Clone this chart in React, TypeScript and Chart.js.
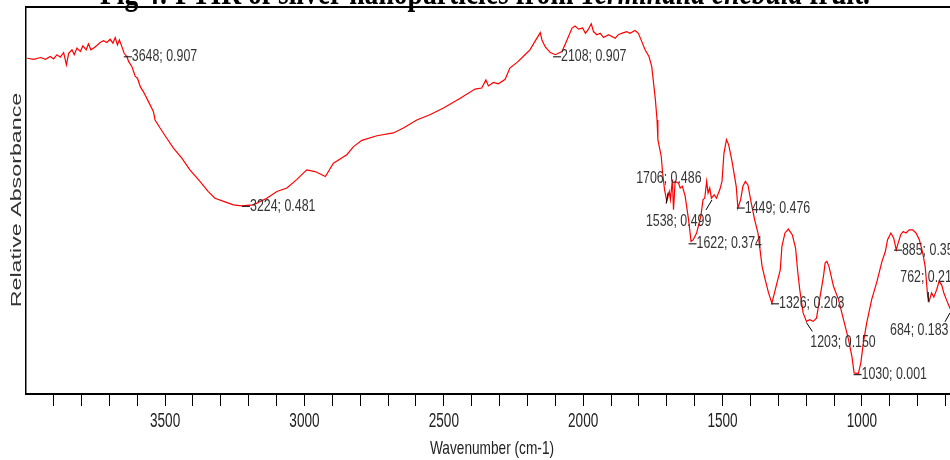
import React, { useEffect, useRef } from 'react';
import { Chart, registerables } from 'chart.js';

Chart.register(...registerables);

// ---- data ----
const wavenumbers = [
  3995, 3971, 3947, 3929, 3912, 3900, 3888, 3876, 3864, 3854, 3846, 3834, 3826, 3816, 3804, 3795, 3783, 3775, 3766, 3751,
  3733, 3721, 3709, 3697, 3687, 3679, 3671, 3664, 3655, 3647, 3637, 3631, 3619, 3613, 3607, 3599, 3589, 3578, 3560, 3542,
  3536, 3518, 3494, 3470, 3440, 3411, 3375, 3345, 3321, 3290, 3255, 3225, 3183, 3135, 3099, 3063, 3028, 2992, 2962, 2925,
  2896, 2848, 2824, 2794, 2740, 2681, 2645, 2597, 2550, 2501, 2441, 2388, 2364, 2349, 2340, 2322, 2304, 2280, 2263, 2233,
  2209, 2191, 2173, 2154, 2148, 2136, 2118, 2100, 2076, 2058, 2040, 2029, 2017, 2002, 1992, 1981, 1971, 1963, 1951, 1939,
  1927, 1909, 1885, 1874, 1862, 1844, 1832, 1814, 1802, 1790, 1778, 1764, 1754, 1741, 1735, 1732, 1727, 1720, 1715, 1708,
  1700, 1691, 1687, 1680, 1676, 1670, 1658, 1652, 1644, 1634, 1622, 1613, 1605, 1593, 1578, 1570, 1564, 1557, 1552, 1546,
  1540, 1530, 1522, 1510, 1502, 1495, 1486, 1478, 1466, 1451, 1445, 1435, 1427, 1418, 1409, 1397, 1385, 1373, 1358, 1347,
  1335, 1323, 1305, 1293, 1287, 1276, 1264, 1250, 1238, 1231, 1223, 1211, 1199, 1187, 1175, 1163, 1150, 1138, 1132, 1126,
  1118, 1102, 1084, 1066, 1048, 1036, 1028, 1013, 1004, 995, 983, 965, 946, 928, 916, 908, 896, 886, 877, 870,
  861, 852, 842, 830, 818, 806, 794, 782, 773, 764, 759, 750, 742, 732, 723, 714, 706, 697, 687, 680, 665,
];
const absorbance = [
  0.903, 0.900, 0.905, 0.900, 0.908, 0.901, 0.913, 0.906, 0.919, 0.884, 0.917, 0.927, 0.913, 0.932, 0.922, 0.938, 0.927, 0.944, 0.927, 0.935,
  0.948, 0.953, 0.948, 0.957, 0.946, 0.962, 0.941, 0.955, 0.936, 0.917, 0.908, 0.894, 0.879, 0.865, 0.851, 0.846, 0.822, 0.808, 0.780, 0.751,
  0.727, 0.704, 0.675, 0.647, 0.618, 0.585, 0.552, 0.523, 0.504, 0.495, 0.485, 0.482, 0.485, 0.504, 0.523, 0.533, 0.557, 0.585, 0.580, 0.566,
  0.604, 0.628, 0.651, 0.669, 0.682, 0.690, 0.704, 0.727, 0.742, 0.761, 0.789, 0.815, 0.818, 0.841, 0.824, 0.834, 0.830, 0.843, 0.875, 0.894,
  0.913, 0.927, 0.951, 0.976, 0.955, 0.935, 0.919, 0.913, 0.922, 0.955, 0.989, 0.995, 0.986, 0.989, 0.974, 0.986, 1.001, 0.979, 0.970, 0.974,
  0.962, 0.970, 0.960, 0.970, 0.974, 0.979, 0.974, 0.982, 0.974, 0.951, 0.927, 0.908, 0.879, 0.785, 0.727, 0.671, 0.651, 0.623, 0.576, 0.528,
  0.495, 0.523, 0.500, 0.557, 0.471, 0.552, 0.547, 0.533, 0.538, 0.509, 0.443, 0.381, 0.386, 0.405, 0.452, 0.500, 0.504, 0.552, 0.519, 0.533,
  0.504, 0.514, 0.504, 0.528, 0.552, 0.632, 0.671, 0.656, 0.609, 0.538, 0.476, 0.500, 0.538, 0.552, 0.542, 0.490, 0.443, 0.405, 0.309, 0.272,
  0.234, 0.205, 0.262, 0.300, 0.367, 0.405, 0.416, 0.400, 0.362, 0.300, 0.243, 0.177, 0.153, 0.158, 0.153, 0.162, 0.224, 0.281, 0.319, 0.324,
  0.309, 0.253, 0.215, 0.158, 0.101, 0.053, 0.006, 0.004, 0.034, 0.091, 0.148, 0.215, 0.267, 0.324, 0.352, 0.386, 0.405, 0.390, 0.357, 0.376,
  0.400, 0.409, 0.405, 0.414, 0.414, 0.405, 0.386, 0.348, 0.309, 0.224, 0.210, 0.234, 0.222, 0.243, 0.267, 0.257, 0.234, 0.215, 0.196, 0.183, 0.205,
];

const peakWaves = [3648, 3224, 2108, 1706, 1622, 1538, 1449, 1326, 1203, 1030, 885, 762, 684];
const peakValues = [0.907, 0.481, 0.907, 0.486, 0.374, 0.499, 0.476, 0.203, 0.150, 0.001, 0.356, 0.214, 0.183];

const majorTickLabels = [3500, 3000, 2500, 2000, 1500, 1000];
const tickPositions = [3900, 3800, 3700, 3600, 3500, 3400, 3300, 3200, 3100, 3000, 2900, 2800, 2700, 2600, 2500, 2400, 2300,
  2200, 2100, 2000, 1900, 1800, 1700, 1600, 1500, 1400, 1300, 1200, 1100, 1000, 900, 800, 700];

const xTitle = 'Wavenumber (cm-1)';
const yTitle = 'Relative Absorbance';
const titleParts = ['Fig 4: FTIR of silver nanoparticles from ', 'Terminalia chebula', ' fruit.'];

// ---- label placement (styles, not data) ----
type Place = { kind: 'right' } | { kind: 'lead'; lead: [number, number, number, number]; text: [number, number] };
const peakPlacement: Place[] = [
  { kind: 'right' },
  { kind: 'right' },
  { kind: 'right' },
  { kind: 'lead', lead: [1, -1, 3, -12], text: [-29, -26] },
  { kind: 'right' },
  { kind: 'lead', lead: [0, 0, -6, 10], text: [-66, 21] },
  { kind: 'right' },
  { kind: 'right' },
  { kind: 'lead', lead: [1, 0, 7, 9], text: [5, 20] },
  { kind: 'right' },
  { kind: 'right' },
  { kind: 'lead', lead: [0, 2, 0, -8], text: [-28, -23] },
  { kind: 'lead', lead: [0, 2, -5, 11], text: [-60, 20] },
];

const SANS = '"Liberation Sans", Arial, sans-serif';
const SERIF = '"Liberation Serif", "Times New Roman", serif';

function drawScaled(ctx: CanvasRenderingContext2D, text: string, x: number, y: number, font: string, sx: number,
  align: CanvasTextAlign, baseline: CanvasTextBaseline, color: string, sy = 1) {
  ctx.save();
  ctx.font = font;
  ctx.fillStyle = color;
  ctx.textAlign = align;
  ctx.textBaseline = baseline;
  ctx.translate(x, y);
  ctx.scale(sx, sy);
  ctx.fillText(text, 0, 0);
  ctx.restore();
}

const decorPlugin = {
  id: 'decor',
  afterDraw(chart: any) {
    const ctx: CanvasRenderingContext2D = chart.ctx;
    const area = chart.chartArea;
    const xs = chart.scales.x;
    const ys = chart.scales.y;

    // top frame line
    ctx.save();
    ctx.strokeStyle = '#000';
    ctx.lineWidth = 2;
    ctx.beginPath();
    ctx.moveTo(area.left, area.top);
    ctx.lineTo(chart.width, area.top);
    ctx.stroke();
    ctx.restore();

    // title (clipped at top of the picture)
    const parts = titleParts.map((t, i) => ({ t, font: (i === 1 ? 'italic bold ' : 'bold ') + '24px ' + SERIF }));
    let total = 0;
    ctx.save();
    parts.forEach((p) => { ctx.font = p.font; total += ctx.measureText(p.t).width; });
    ctx.restore();
    const tsx = 770 / total;
    let tx = 100;
    parts.forEach((p) => {
      drawScaled(ctx, p.t, tx, 3.5, p.font, tsx, 'left', 'alphabetic', '#000', 1.45);
      ctx.save(); ctx.font = p.font; tx += ctx.measureText(p.t).width * tsx; ctx.restore();
    });

    // x tick labels
    majorTickLabels.forEach((v) => {
      const px = xs.getPixelForValue(v);
      drawScaled(ctx, String(v), px, 421, '20px ' + SANS, 0.68, 'center', 'middle', '#222');
    });
    // x title
    drawScaled(ctx, xTitle, 492, 449, '19px ' + SANS, 0.72, 'center', 'middle', '#222');
    // y title
    ctx.save();
    ctx.translate(17, 200);
    ctx.rotate(-Math.PI / 2);
    ctx.scale(1.5, 1);
    ctx.font = '15.5px ' + SANS;
    ctx.fillStyle = '#333';
    ctx.textAlign = 'center';
    ctx.textBaseline = 'middle';
    ctx.fillText(yTitle, 0, 0);
    ctx.restore();

    // peak labels
    const lf = '16.5px ' + SANS;
    peakWaves.forEach((w, i) => {
      const v = peakValues[i];
      const px = xs.getPixelForValue(w);
      const py = ys.getPixelForValue(v);
      const label = `${w}; ${v.toFixed(3)}`;
      const pl = peakPlacement[i];
      ctx.save();
      ctx.strokeStyle = '#000';
      ctx.lineWidth = 1;
      ctx.beginPath();
      if (pl.kind === 'right') {
        ctx.moveTo(px, py);
        ctx.lineTo(px + 8, py);
        ctx.stroke();
        ctx.restore();
        drawScaled(ctx, label, px + 8, py, lf, 0.75, 'left', 'middle', '#333');
      } else {
        ctx.moveTo(px + pl.lead[0], py + pl.lead[1]);
        ctx.lineTo(px + pl.lead[2], py + pl.lead[3]);
        ctx.stroke();
        ctx.restore();
        drawScaled(ctx, label, px + pl.text[0], py + pl.text[1], lf, 0.75, 'left', 'middle', '#333');
      }
    });
  },
};

export default function App() {
  const ref = useRef<HTMLCanvasElement>(null);
  useEffect(() => {
    if (!ref.current) return;
    const points = wavenumbers.map((w, i) => ({ x: w, y: absorbance[i] }));
    const chart = new Chart(ref.current, {
      type: 'line',
      data: {
        datasets: [{
          data: points,
          borderColor: '#ff0000',
          borderWidth: 1.2,
          pointRadius: 0,
          tension: 0,
          fill: false,
        }],
      },
      options: {
        responsive: false,
        animation: false,
        events: [],
        layout: { padding: { left: 26, top: 7, right: 0, bottom: 0 } },
        plugins: { legend: { display: false }, tooltip: { enabled: false }, title: { display: false } },
        scales: {
          x: {
            type: 'linear',
            reverse: true,
            min: 684,
            max: 3999,
            afterBuildTicks: (s: any) => { s.ticks = tickPositions.map((v) => ({ value: v })); },
            afterFit: (s: any) => { s.height = 66; },
            ticks: { autoSkip: false, maxRotation: 0, callback: () => '' },
            grid: { display: true, drawOnChartArea: false, drawTicks: true, tickLength: 12, color: '#000', lineWidth: 1 },
            border: { display: true, color: '#000', width: 2 },
          },
          y: {
            min: -0.054,
            max: 1.049,
            afterFit: (s: any) => { s.width = 0; },
            ticks: { display: false },
            grid: { display: false, drawTicks: false },
            border: { display: true, color: '#000', width: 1.5 },
          },
        },
      },
      plugins: [decorPlugin],
    });
    return () => chart.destroy();
  }, []);
  return (
    <div style={{ position: 'absolute', left: 0, top: 0, width: 950, height: 460, background: '#fff' }}>
      <canvas ref={ref} width={950} height={460} style={{ width: 950, height: 460, display: 'block' }} />
    </div>
  );
}
